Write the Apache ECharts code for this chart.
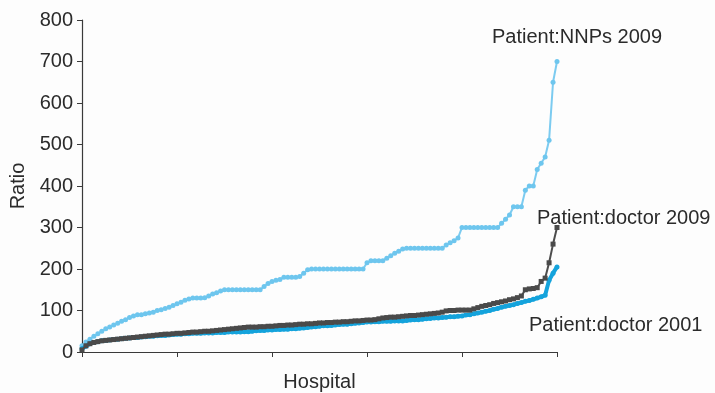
<!DOCTYPE html>
<html>
<head>
<meta charset="utf-8">
<script src="https://cdn.jsdelivr.net/npm/echarts@6/dist/echarts.min.js"></script>
<style>
  html, body { margin: 0; padding: 0; background: #fdfdfd; }
  #chart { width: 715px; height: 393px; }
</style>
</head>
<body>
<div id="chart"></div>
<script>
// Ratios per hospital, each series sorted ascending (hospital rank 0..120)
const yTicks = [0, 100, 200, 300, 400, 500, 600, 700, 800];

const nnps2009 = [
  15, 24, 31, 38, 44, 50, 56, 60, 65, 69,
  74, 78, 83, 87, 90, 90, 92, 94, 96, 100,
  102, 105, 108, 112, 116, 120, 125, 128, 130, 130,
  130, 131, 135, 140, 143, 147, 150, 150, 150, 150,
  150, 150, 150, 150, 150, 150, 158, 165, 170, 173,
  175, 180, 180, 180, 180, 182, 190, 198, 200, 200,
  200, 200, 200, 200, 200, 200, 200, 200, 200, 200,
  200, 200, 215, 220, 220, 220, 220, 226, 232, 238,
  243, 248, 250, 250, 250, 250, 250, 250, 250, 250,
  250, 250, 258, 263, 268, 275, 300, 300, 300, 300,
  300, 300, 300, 300, 300, 300, 310, 320, 330, 350,
  350, 350, 390, 400, 400, 440, 455, 470, 510, 650,
  700
];

const doctor2009 = [
  5, 15, 20, 23, 25, 27, 28, 29, 30, 31,
  32, 33, 34, 35, 36, 37, 38, 39, 40, 41,
  42, 43, 43, 44, 45, 45, 46, 47, 48, 48,
  49, 50, 50, 51, 52, 53, 54, 55, 56, 57,
  58, 59, 60, 60, 60, 61, 61, 62, 62, 63,
  64, 64, 65, 65, 66, 67, 67, 68, 68, 69,
  70, 70, 71, 71, 72, 72, 73, 73, 74, 75,
  75, 76, 77, 77, 78, 80, 82, 83, 84, 84,
  85, 86, 87, 88, 88, 89, 90, 91, 92, 93,
  94, 96, 99, 100, 100, 101, 101, 101, 101, 104,
  107, 110, 112, 114, 117, 119, 121, 123, 126, 128,
  131, 135, 150, 152, 153, 155, 170, 178, 215, 260,
  300
];

const doctor2001 = [
  8, 14, 20, 23, 25, 27, 28, 29, 30, 31,
  32, 33, 34, 35, 35, 36, 37, 38, 38, 39,
  40, 40, 41, 42, 43, 43, 44, 44, 45, 45,
  45, 46, 46, 46, 47, 47, 47, 48, 48, 48,
  48, 49, 49, 50, 51, 52, 52, 53, 53, 54,
  54, 55, 55, 56, 56, 57, 58, 59, 60, 61,
  62, 63, 63, 64, 65, 66, 67, 67, 68, 69,
  70, 71, 72, 72, 73, 73, 74, 74, 74, 75,
  75, 75, 76, 77, 78, 78, 79, 80, 81, 82,
  82, 83, 84, 85, 85, 86, 87, 89, 90, 92,
  94, 96, 98, 100, 103, 105, 108, 110, 112, 114,
  117, 119, 122, 124, 127, 130, 133, 137, 173, 190,
  205
];

const seriesNames = ['Patient:NNPs 2009', 'Patient:doctor 2009', 'Patient:doctor 2001'];
const xTitle = 'Hospital';
const yTitle = 'Ratio';

const toPoints = arr => arr.map((v, i) => [i, v]);
const lastIndex = nnps2009.length - 1;

const textColor = '#2b2b2b';
const font = '"Liberation Sans", Arial, sans-serif';

const chart = echarts.init(document.getElementById('chart'));
chart.setOption({
  backgroundColor: '#fdfdfd',
  animation: false,
  grid: { left: 82, right: 158, top: 20, bottom: 41, outerBoundsMode: 'none', containLabel: false },
  xAxis: {
    type: 'value',
    min: 0,
    max: lastIndex,
    interval: lastIndex / 5,
    name: xTitle,
    nameLocation: 'middle',
    nameGap: 20,
    nameTextStyle: { fontSize: 20, color: textColor, fontFamily: font },
    axisLine: { show: true, lineStyle: { color: '#3a3a3a', width: 1.2 } },
    axisTick: { show: true, length: 5, lineStyle: { color: '#3a3a3a' } },
    axisLabel: { show: false },
    splitLine: { show: false }
  },
  yAxis: {
    type: 'value',
    min: yTicks[0],
    max: yTicks[yTicks.length - 1],
    interval: yTicks[1] - yTicks[0],
    name: yTitle,
    nameLocation: 'middle',
    nameGap: 54,
    nameRotate: 90,
    nameTextStyle: { fontSize: 20, color: textColor, fontFamily: font },
    axisLine: { show: true, lineStyle: { color: '#3a3a3a', width: 1.2 } },
    axisTick: { show: true, length: 5, lineStyle: { color: '#3a3a3a' } },
    axisLabel: { fontSize: 20, color: textColor, fontFamily: font, margin: 9 },
    splitLine: { show: false }
  },
  series: [
    {
      name: seriesNames[0],
      type: 'line',
      data: toPoints(nnps2009),
      symbol: 'circle',
      symbolSize: 5,
      itemStyle: { color: '#6ec6ee' },
      lineStyle: { color: '#7ccbf0', width: 2 },
      z: 2
    },
    {
      name: seriesNames[2],
      type: 'line',
      data: toPoints(doctor2001),
      symbol: 'circle',
      symbolSize: 5,
      itemStyle: { color: '#14a3dc' },
      lineStyle: { color: '#14a3dc', width: 4 },
      z: 3
    },
    {
      name: seriesNames[1],
      type: 'line',
      data: toPoints(doctor2009),
      symbol: 'rect',
      symbolSize: 5,
      itemStyle: { color: '#4a4a4a' },
      lineStyle: { color: '#4d4d4d', width: 2 },
      z: 4
    }
  ],
  graphic: [
    { type: 'text', left: 492, top: 27, style: { text: seriesNames[0], fontSize: 20, fill: textColor, fontFamily: font } },
    { type: 'text', left: 537, top: 208, style: { text: seriesNames[1], fontSize: 20, fill: textColor, fontFamily: font } },
    { type: 'text', left: 529, top: 315, style: { text: seriesNames[2], fontSize: 20, fill: textColor, fontFamily: font } }
  ]
});
</script>
</body>
</html>
